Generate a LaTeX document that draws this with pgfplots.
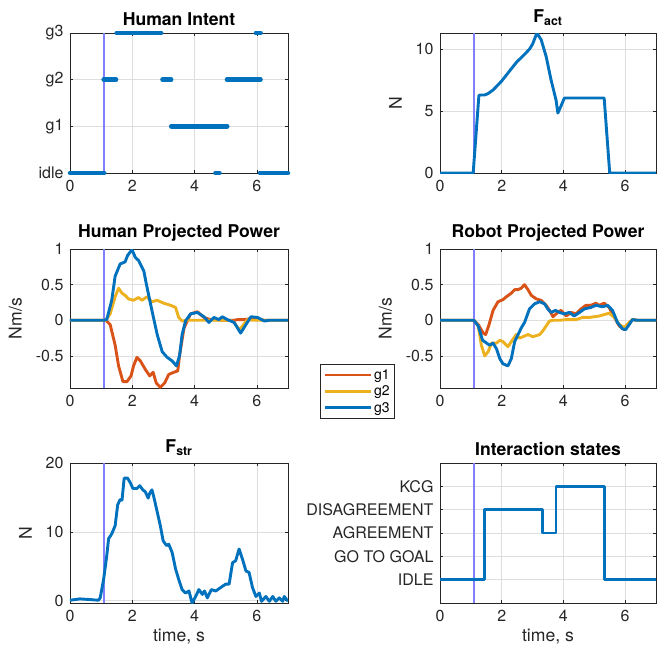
\documentclass[border=0pt]{standalone}
\usepackage{fontspec}
\setmainfont{TeX Gyre Heros}
\usepackage{pgfplots}
\pgfplotsset{compat=1.18}
\definecolor{mblue}{rgb}{0,0.447,0.741}
\definecolor{morange}{rgb}{0.85,0.325,0.098}
\definecolor{myellow}{rgb}{0.929,0.694,0.125}
\definecolor{axc}{rgb}{0.15,0.15,0.15}
\definecolor{gridc}{rgb}{0.87,0.87,0.87}
\definecolor{vlinec}{rgb}{0.5,0.5,1}
\pgfplotsset{
  mat/.style={
    scale only axis, xmin=0, xmax=7, xtick={0,2,4,6},
    grid=major, major grid style={draw=gridc, line width=0.6pt},
    axis line style={draw=axc, line width=0.7pt},
    tick style={draw=axc, line width=0.6pt}, major tick length=3pt,
    tick label style={font=\fontsize{16}{19}\selectfont, text=axc},
    xticklabel style={yshift=-4pt},
    yticklabel style={xshift=-3pt},
    ylabel shift=7pt,
    /pgf/number format/assume math mode=true,
    title style={font=\bfseries\fontsize{17.6}{20}\selectfont, yshift=-2pt},
    label style={font=\fontsize{17.6}{20}\selectfont, text=axc},
    every axis plot/.append style={line width=2.9pt, line join=round},
    clip mode=individual,
  },
}
\begin{document}
\begin{tikzpicture}
\useasboundingbox (0,0) rectangle (666pt,-654pt);
% Human Intent
\begin{axis}[mat, at={(70pt,-173pt)}, anchor=south west, width=218pt, height=140pt,
  ymin=0, ymax=3, ytick={0,1,2,3}, yticklabels={idle,g1,g2,g3},
  title={Human Intent}, clip=false, unbounded coords=jump]
\addplot[vlinec, line width=1.3pt, forget plot] coordinates {(1.09,0) (1.09,3)};
\addplot[mblue, line width=4.5pt, line cap=round] coordinates {
(0,0)(1.1,0)(1.1,nan)
(1.08,2)(1.48,2)(1.48,nan)
(1.5,3)(2.93,3)(2.93,nan)
(2.97,2)(3.25,2)(3.25,nan)
(3.25,1)(5.05,1)(5.05,nan)
(4.67,0)(4.8,0)(4.8,nan)
(5.04,2)(6.12,2)(6.12,nan)
(5.97,3)(6.12,3)(6.12,nan)
(6.1,0)(7,0)};
\end{axis}
% F_act
\begin{axis}[mat, at={(440pt,-173pt)}, anchor=south west, width=216pt, height=140pt,
  ymin=0, ymax=11.3, ytick={0,5,10}, ylabel={N},
  title={F\textsubscript{act}}]
\addplot[vlinec, line width=1.3pt, forget plot] coordinates {(1.1,0) (1.1,11.3)};
\addplot[mblue] coordinates {
(0,0)(1.075,0)(1.26,6.24)(1.3,6.3)(1.45,6.3)(1.55,6.4)(1.72,6.7)(1.99,7.4)(2.15,7.9)(2.37,8.6)(2.5,9.0)(2.63,9.3)(2.75,9.6)(2.9,10.0)(3.0,10.4)(3.14,11.3)(3.28,10.75)(3.44,9.4)(3.6,7.5)(3.76,5.9)(3.82,4.84)(3.92,5.4)(4.03,6.05)(5.32,6.05)(5.5,0)(7,0)};
\end{axis}
% Human Projected Power
\begin{axis}[mat, at={(70pt,-388pt)}, anchor=south west, width=218pt, height=139pt,
  ymin=-0.95, ymax=1, ytick={-0.5,0,0.5,1}, ylabel={Nm/s},
  title={Human Projected Power}]
\addplot[vlinec, line width=1.3pt, forget plot] coordinates {(1.09,-0.95) (1.09,1)};
\addplot[morange] coordinates {
(0,0)(1.15,0)(1.29,-0.06)(1.45,-0.35)(1.56,-0.64)(1.7,-0.86)(1.83,-0.86)(1.96,-0.78)(2.04,-0.64)(2.15,-0.52)(2.26,-0.57)(2.42,-0.69)(2.56,-0.78)(2.67,-0.73)(2.77,-0.88)(2.9,-0.94)(3.04,-0.88)(3.17,-0.76)(3.33,-0.73)(3.46,-0.71)(3.52,-0.49)(3.66,-0.11)(3.87,0.09)(4.09,0.12)(4.3,0.04)(4.5,0.01)(5.0,0)(5.27,0)(5.38,0.01)(5.6,0.01)(5.9,0.03)(6.24,0)(7,0)};
\addplot[myellow] coordinates {
(0,0)(1.15,0)(1.29,0.09)(1.45,0.33)(1.56,0.45)(1.67,0.38)(1.77,0.35)(1.88,0.3)(2.04,0.28)(2.2,0.32)(2.31,0.28)(2.47,0.33)(2.63,0.26)(2.8,0.28)(3.01,0.24)(3.23,0.21)(3.39,0.18)(3.49,0.04)(3.6,-0.01)(3.76,0)(5.15,0)(5.27,-0.03)(5.43,-0.13)(5.54,-0.08)(5.7,0.01)(5.9,0)(7,0)};
\addplot[mblue] coordinates {
(0,0)(1.08,0)(1.18,0.01)(1.34,0.28)(1.45,0.62)(1.61,0.79)(1.72,0.81)(1.77,0.82)(1.85,0.91)(1.99,0.99)(2.1,0.88)(2.2,0.84)(2.37,0.69)(2.47,0.47)(2.63,0.14)(2.8,-0.2)(2.96,-0.44)(3.12,-0.52)(3.28,-0.57)(3.42,-0.64)(3.52,-0.49)(3.6,-0.2)(3.71,-0.01)(3.87,0.09)(4.09,0.11)(4.3,0.05)(4.46,-0.03)(4.62,0.04)(4.78,0.01)(4.89,0.05)(5.05,0.01)(5.27,-0.03)(5.48,-0.18)(5.65,-0.06)(5.81,0.05)(6.02,0.04)(6.24,-0.01)(6.4,0)(7,0)};
\end{axis}
% Robot Projected Power
\begin{axis}[mat, at={(440pt,-388pt)}, anchor=south west, width=216pt, height=139pt,
  ymin=-0.95, ymax=1, ytick={-0.5,0,0.5,1}, ylabel={Nm/s},
  title={Robot Projected Power},
  legend style={at={(-0.556,0.173)}, anchor=north west, draw=axc, line width=0.6pt,
    font=\fontsize{14}{16}\selectfont, row sep=1pt, inner xsep=3pt, inner ysep=3pt},
  legend cell align=left,
  legend image code/.code={\draw[#1] (0pt,0pt) -- (46pt,0pt);}]
\addplot[vlinec, line width=1.3pt, forget plot] coordinates {(1.1,-0.95) (1.1,1)};
\addplot[morange] coordinates {
(0,0)(1.1,0)(1.24,-0.06)(1.4,-0.18)(1.48,-0.2)(1.59,-0.06)(1.72,0.14)(1.88,0.26)(2.04,0.29)(2.15,0.33)(2.31,0.38)(2.42,0.43)(2.53,0.43)(2.63,0.45)(2.74,0.5)(2.85,0.43)(2.96,0.35)(3.12,0.3)(3.28,0.28)(3.44,0.21)(3.55,0.14)(3.66,0.05)(3.76,0.09)(3.92,0.14)(4.09,0.06)(4.25,0.11)(4.41,0.09)(4.57,0.16)(4.73,0.21)(4.89,0.21)(5.05,0.24)(5.16,0.21)(5.32,0.24)(5.48,0.18)(5.65,0.04)(5.81,-0.08)(5.97,-0.13)(6.08,-0.06)(6.24,0.01)(6.4,0)(7,0)};
\addlegendentry{g1}
\addplot[myellow] coordinates {
(0,0)(1.1,0)(1.24,-0.08)(1.34,-0.35)(1.45,-0.5)(1.56,-0.44)(1.67,-0.32)(1.83,-0.32)(1.94,-0.28)(2.04,-0.3)(2.2,-0.37)(2.31,-0.3)(2.47,-0.2)(2.58,-0.25)(2.69,-0.23)(2.85,-0.2)(3.01,-0.23)(3.23,-0.2)(3.33,-0.15)(3.44,-0.08)(3.55,-0.01)(3.66,0)(3.87,0)(4.09,0.01)(4.41,0.01)(4.62,0.04)(4.84,0.04)(5.16,0.06)(5.48,0.1)(5.65,0.04)(5.81,-0.06)(5.97,-0.1)(6.13,-0.03)(6.24,0.01)(6.4,0)(7,0)};
\addlegendentry{g2}
\addplot[mblue] coordinates {
(0,0)(1.1,0)(1.24,-0.08)(1.38,-0.28)(1.51,-0.32)(1.61,-0.35)(1.72,-0.32)(1.83,-0.4)(1.94,-0.54)(2.04,-0.61)(2.2,-0.64)(2.31,-0.54)(2.42,-0.3)(2.53,-0.2)(2.63,-0.11)(2.74,-0.03)(2.9,0.16)(3.06,0.23)(3.23,0.26)(3.39,0.23)(3.49,0.16)(3.6,0.11)(3.74,0.14)(3.87,0.11)(4.03,0.09)(4.19,0.11)(4.35,0.06)(4.52,0.11)(4.68,0.16)(4.89,0.18)(5.05,0.21)(5.27,0.19)(5.43,0.21)(5.59,0.14)(5.75,-0.03)(5.91,-0.12)(6.02,-0.13)(6.13,-0.06)(6.24,0.01)(6.4,0)(7,0)};
\addlegendentry{g3}
\end{axis}
% F_str
\begin{axis}[mat, at={(70pt,-603pt)}, anchor=south west, width=218pt, height=140pt,
  ymin=-0.35, ymax=20, ytick={0,10,20}, ylabel={N}, xlabel={time, s},
  title={F\textsubscript{str}}]
\addplot[vlinec, line width=1.3pt, forget plot] coordinates {(1.09,-0.35) (1.09,20)};
\addplot[mblue] coordinates {
(0,0.05)(0.32,0.25)(0.65,0.15)(0.91,0.05)(0.97,0.4)(1.08,3.1)(1.18,6.5)(1.24,9.0)(1.34,9.7)(1.45,10.9)(1.53,13.9)(1.61,14.7)(1.67,14.6)(1.74,17.8)(1.85,17.8)(1.94,17.1)(2.02,16.3)(2.15,16.3)(2.24,16.7)(2.34,16.1)(2.42,15.8)(2.51,14.9)(2.56,15.6)(2.63,16.1)(2.69,15.1)(2.8,12.9)(2.9,10.9)(2.99,8.7)(3.1,8.0)(3.17,8.2)(3.28,7.0)(3.39,4.6)(3.49,3.1)(3.6,1.6)(3.71,1.1)(3.82,1.4)(3.92,-0.35)(4.01,0.4)(4.14,1.6)(4.25,0.9)(4.32,1.4)(4.41,0.4)(4.54,1.6)(4.68,1.4)(4.84,1.9)(5.0,2.4)(5.11,2.4)(5.22,5.5)(5.32,5.8)(5.43,7.5)(5.54,6.0)(5.65,4.3)(5.75,4.1)(5.86,1.9)(5.97,0.6)(6.08,1.1)(6.15,-0.1)(6.29,0.6)(6.4,-0.1)(6.51,0.6)(6.61,-0.1)(6.72,0.4)(6.83,-0.1)(6.88,0.6)(7.0,-0.1)};
\end{axis}
% Interaction states
\begin{axis}[mat, at={(440pt,-603pt)}, anchor=south west, width=216pt, height=140pt,
  ymin=-1, ymax=5, ytick={0,1,2,3,4},
  yticklabels={IDLE,GO TO GOAL,AGREEMENT,DISAGREEMENT,KCG},
  xlabel={time, s}, title={Interaction states}]
\addplot[vlinec, line width=1.3pt, forget plot] coordinates {(1.1,-1) (1.1,5)};
\addplot[mblue] coordinates {
(0,0)(1.45,0)(1.45,3)(3.31,3)(3.31,2)(3.76,2)(3.76,4)(5.32,4)(5.32,0)(7,0)};
\end{axis}
\end{tikzpicture}
\end{document}
